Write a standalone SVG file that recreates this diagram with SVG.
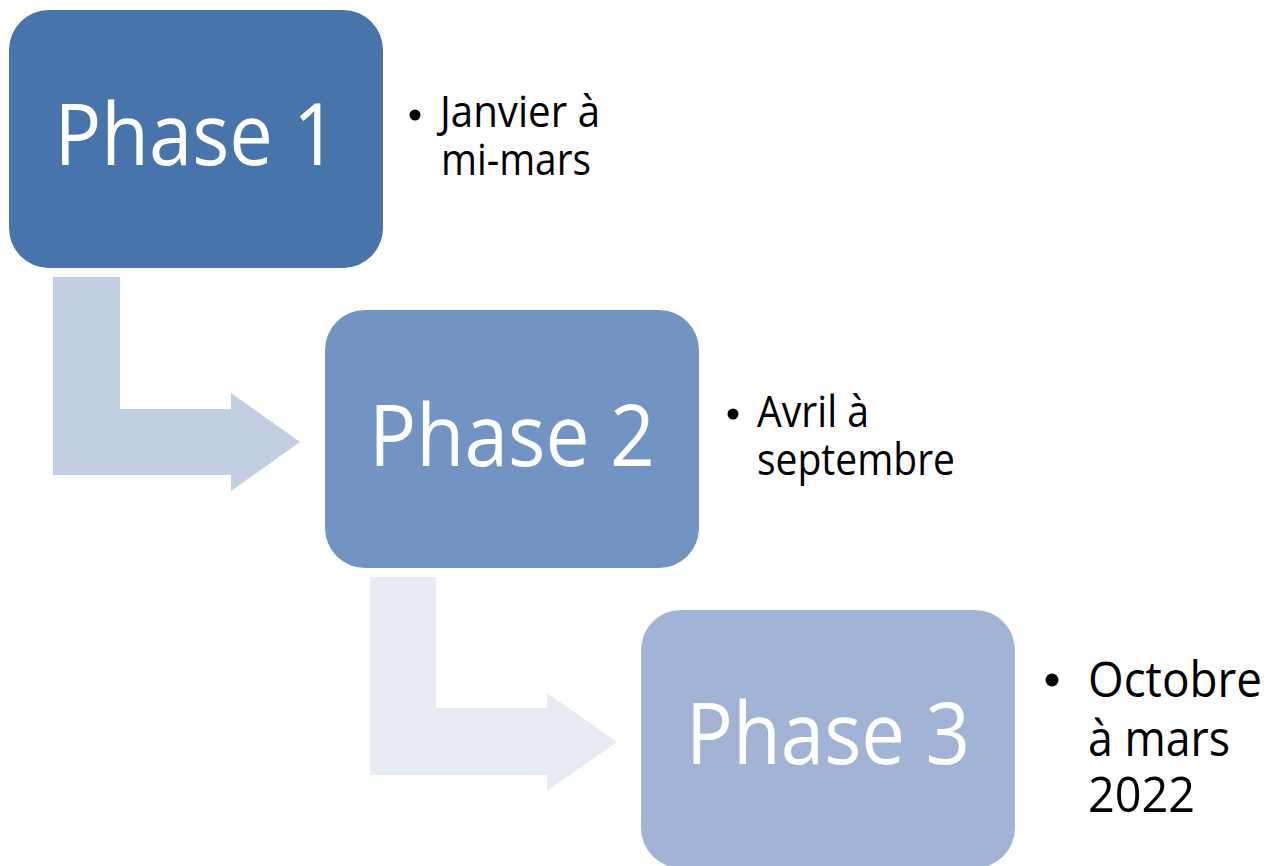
<svg xmlns="http://www.w3.org/2000/svg" width="1268" height="866" viewBox="0 0 1268 866">
<style>
.ph{font-family:"Open Sans","Liberation Sans",sans-serif;font-size:86px;fill:#fff;text-anchor:middle}
.bl{font-family:"Open Sans","Liberation Sans",sans-serif;font-size:43px;fill:#000}
.bl3{font-family:"Open Sans","Liberation Sans",sans-serif;font-size:50px;fill:#000}
</style>
<rect width="1268" height="866" fill="#fff"/>
<g id="connectors">
<path d="M53,277 H120 V409 H231 V393 L300,442 L231,491 V475 H53 Z" fill="#C2CEE2"/>
<path d="M370,577 H436 V708 H547 V693 L617,742 L547,791 V775 H370 Z" fill="#E7ECF4"/>
</g>
<g id="phase1">
<rect x="9" y="10" width="374" height="258" rx="40" fill="#4774AA"/>
<text class="ph" x="196" y="165" textLength="283" lengthAdjust="spacingAndGlyphs">Phase 1</text>
</g>
<g id="note1">
<circle cx="415" cy="115" r="5.5" fill="#000"/>
<text class="bl" x="440" y="127" textLength="160" lengthAdjust="spacingAndGlyphs">Janvier à</text>
<text class="bl" x="441" y="175" textLength="150" lengthAdjust="spacingAndGlyphs">mi-mars</text>
</g>
<g id="phase2">
<rect x="325" y="310" width="374" height="258" rx="40" fill="#7294C3"/>
<text class="ph" x="512" y="466" textLength="286" lengthAdjust="spacingAndGlyphs">Phase 2</text>
</g>
<g id="note2">
<circle cx="733" cy="414" r="5.5" fill="#000"/>
<text class="bl" x="757" y="427" textLength="112" lengthAdjust="spacingAndGlyphs">Avril à</text>
<text class="bl" x="757" y="475" textLength="198" lengthAdjust="spacingAndGlyphs">septembre</text>
</g>
<g id="phase3">
<rect x="641" y="610" width="374" height="258" rx="40" fill="#A2B4D5"/>
<text class="ph" x="828" y="764" textLength="284" lengthAdjust="spacingAndGlyphs">Phase 3</text>
</g>
<g id="note3">
<circle cx="1052" cy="680" r="6.5" fill="#000"/>
<text class="bl3" x="1088" y="697" textLength="174" lengthAdjust="spacingAndGlyphs">Octobre</text>
<text class="bl3" x="1088" y="756" textLength="142" lengthAdjust="spacingAndGlyphs">à mars</text>
<text class="bl3" x="1088" y="812" textLength="107" lengthAdjust="spacingAndGlyphs">2022</text>
</g>
</svg>
